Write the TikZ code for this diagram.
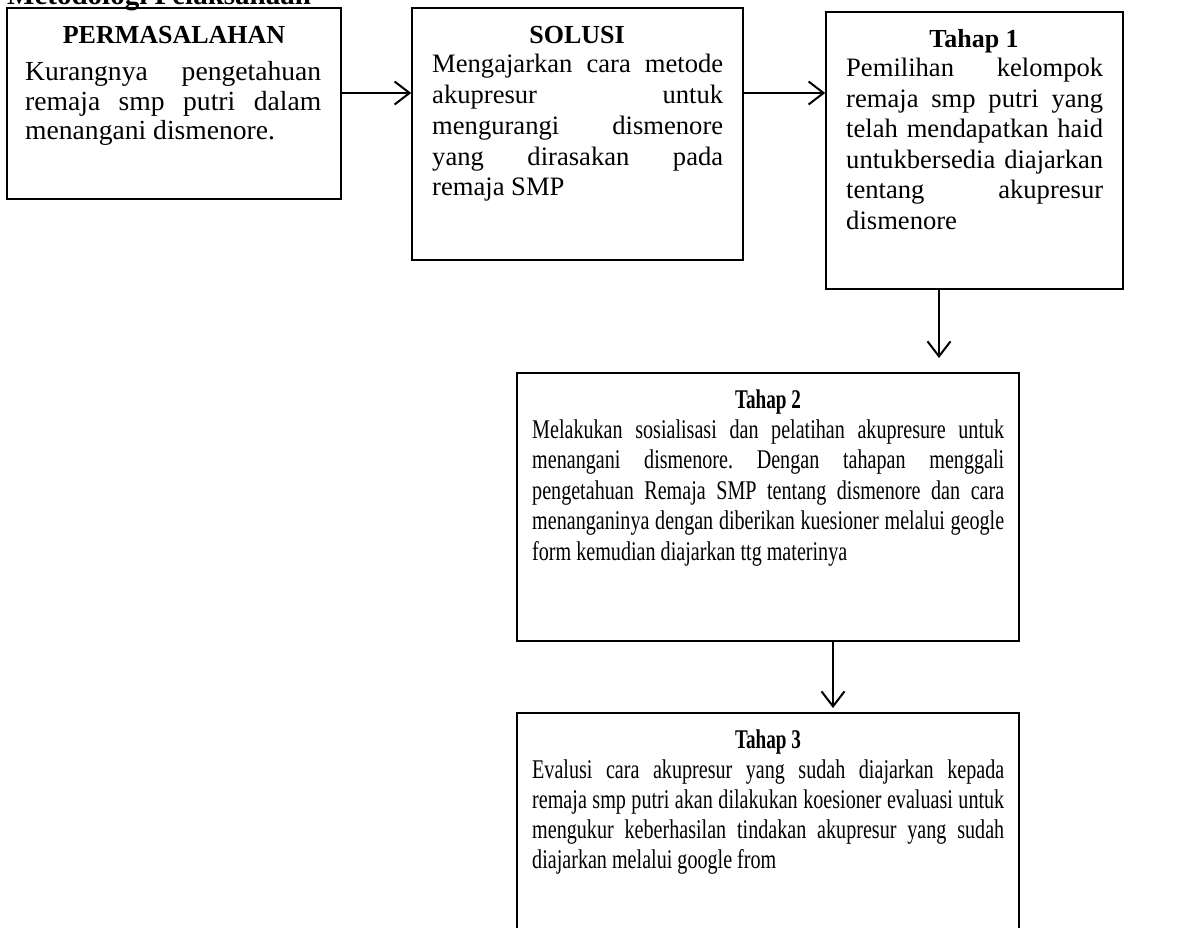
\documentclass[tikz,border=0pt]{standalone}
\usepackage{fontspec}
\setmainfont{Liberation Serif}
\newfontfamily\topbody{Liberation Serif}
\newfontfamily\botbody{Liberation Serif}[FakeStretch=0.745]
\newfontfamily\bottitle{Liberation Serif}[FakeStretch=0.71]
\usetikzlibrary{arrows.meta}
\frenchspacing
\tikzset{
  x=1pt, y=-1pt,
  box/.style={draw=black, line width=1.6pt, inner sep=0pt, fill=none},
  ttl/.style={anchor=base, inner sep=0pt, font=\bfseries\fontsize{26}{30}\selectfont},
  bttl/.style={anchor=base, inner sep=0pt, font=\bottitle\bfseries\fontsize{27}{30}\selectfont},
  body/.style={anchor=base west, inner sep=0pt, align=justify},
  arr/.style={line width=2pt, -{Straight Barb[length=15pt,width=23pt,line width=2pt]}}
}
\newcommand{\bodysetup}{\frenchspacing\hyphenpenalty=10000 \exhyphenpenalty=10000 \tolerance=9999 }
\begin{document}
\begin{tikzpicture}
\useasboundingbox (0,0) rectangle (1186,928);
% heading (cut off at top)
\node[anchor=base west, inner sep=0pt, font=\bfseries\fontsize{29}{32}\selectfont] (head) at (7,5) {Metodologi Pelaksanaan};
% boxes
\node[box, minimum width=334pt, minimum height=191pt] (b1) at (174,103.5) {};
\node[box, minimum width=331pt, minimum height=252pt] (b2) at (577.5,134) {};
\node[box, minimum width=297pt, minimum height=277pt] (b3) at (974.5,150.5) {};
\node[box, minimum width=502pt, minimum height=268pt] (b4) at (768,507) {};
\node[box, minimum width=502pt, minimum height=290pt] (b5) at (768,858) {};
% titles
\node[ttl] (t1) at (174,44) {PERMASALAHAN};
\node[ttl] (t2) at (577,44) {SOLUSI};
\node[ttl] (t3) at (974,48) {Tahap 1};
\node[bttl] (t4) at (768,408) {Tahap 2};
\node[bttl] (t5) at (768,748) {Tahap 3};
% body texts
\node[body, text width=296pt, font=\topbody\fontsize{27.6}{29.5}\selectfont] (p1) at (25,81)
 {\bodysetup Kurangnya pengetahuan\linebreak remaja smp putri dalam\linebreak menangani dismenore.};
\node[body, text width=291pt, font=\topbody\fontsize{26.6}{30.7}\selectfont] (p2) at (432,73)
 {\bodysetup Mengajarkan cara metode\linebreak akupresur untuk\linebreak mengurangi dismenore\linebreak yang dirasakan pada\linebreak remaja SMP};
\node[body, text width=257pt, font=\topbody\fontsize{26.6}{30.5}\selectfont] (p3) at (846,77)
 {\bodysetup Pemilihan kelompok\linebreak remaja smp putri yang\linebreak telah mendapatkan haid\linebreak untukbersedia diajarkan\linebreak tentang akupresur\linebreak dismenore};
\node[body, text width=472pt, font=\botbody\fontsize{27}{30.5}\selectfont] (p4) at (532,438)
 {\bodysetup Melakukan sosialisasi dan pelatihan akupresure untuk\linebreak menangani dismenore. Dengan tahapan menggali\linebreak pengetahuan Remaja SMP tentang dismenore dan cara\linebreak menanganinya dengan diberikan kuesioner melalui geogle\linebreak form kemudian diajarkan ttg materinya};
\node[body, text width=472pt, font=\botbody\fontsize{27}{30.3}\selectfont] (p5) at (532,778)
 {\bodysetup Evalusi cara akupresur yang sudah diajarkan kepada\linebreak remaja smp putri akan dilakukan koesioner evaluasi untuk\linebreak mengukur keberhasilan tindakan akupresur yang sudah\linebreak diajarkan melalui google from};
% arrow helper coordinates
\coordinate (row) at (0,93);
\coordinate (c3) at (939,0);
\coordinate (e3) at (939,358);
\coordinate (c4) at (833,0);
\coordinate (e4) at (833,708);
% connectors
\draw[arr] (b1.east |- row) -- (b2.west |- row);
\draw[arr] (b2.east |- row) -- (b3.west |- row);
\draw[arr] (b3.south -| c3) -- (e3);
\draw[arr] (b4.south -| c4) -- (e4);
\end{tikzpicture}
\end{document}
